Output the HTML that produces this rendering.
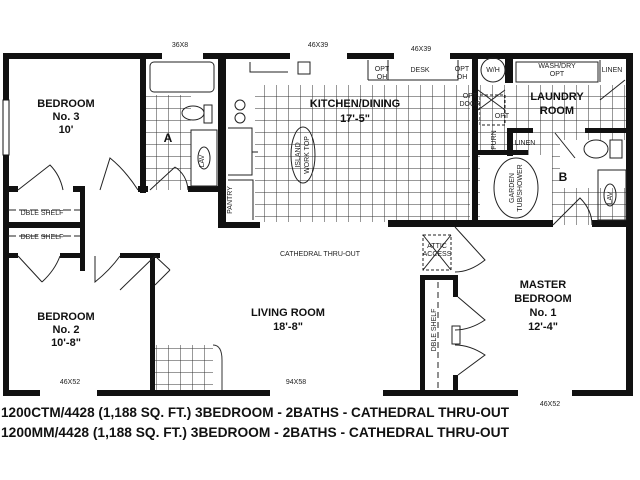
<!DOCTYPE html>
<html><head><style>html,body{margin:0;padding:0;background:#fff}svg{display:block}</style></head><body>
<svg width="640" height="480" viewBox="0 0 640 480" xmlns="http://www.w3.org/2000/svg" font-family="Liberation Sans, sans-serif">
<defs>
<pattern id="g" width="12" height="12" patternUnits="userSpaceOnUse"><path d="M0 0H12M0 0V12" stroke="#333" stroke-width="1" fill="none"/></pattern>
</defs>
<rect width="640" height="480" fill="#fff"/>
<!-- tile grids -->
<rect x="255" y="85" width="215" height="137" fill="url(#g)"/>
<rect x="146" y="95" width="45" height="95" fill="url(#g)"/>
<rect x="478" y="85" width="150" height="140" fill="url(#g)"/>
<rect x="155" y="345" width="58" height="48" fill="url(#g)"/>
<path d="M213 345 Q222 345 222 360 V393" stroke="#333" fill="none"/>
<!-- white covers -->
<rect x="227" y="60" width="160" height="25" fill="#fff"/>
<rect x="228" y="85" width="25" height="135" fill="#fff"/>
<rect x="480" y="155" width="72" height="65" fill="#fff"/>
<rect x="560" y="140" width="66" height="48" fill="#fff"/>
<rect x="146" y="60" width="72" height="35" fill="#fff"/>
<g fill="#111">
<!-- outer walls -->
<rect x="3" y="53" width="159" height="6"/>
<rect x="203" y="53" width="87" height="6"/>
<rect x="347" y="53" width="47" height="6"/>
<rect x="450" y="53" width="182" height="6"/>
<rect x="3" y="53" width="6" height="343"/>
<rect x="626" y="53" width="7" height="343"/>
<rect x="3" y="390" width="37" height="6"/>
<rect x="97" y="390" width="173" height="6"/>
<rect x="383" y="390" width="135" height="6"/>
<rect x="572" y="390" width="61" height="6"/>
<!-- bedroom 3 -->
<rect x="140" y="53" width="6" height="140"/>
<rect x="3" y="186" width="15" height="6"/>
<rect x="73" y="186" width="12" height="6"/>
<rect x="138" y="186" width="10" height="6"/>
<rect x="188" y="186" width="30" height="6"/>
<rect x="218" y="53" width="8" height="175"/>
<rect x="218" y="222" width="42" height="6"/>
<rect x="80" y="186" width="5" height="85"/>
<rect x="3" y="222" width="82" height="6"/>
<rect x="3" y="253" width="15" height="5"/>
<rect x="60" y="253" width="25" height="5"/>
<rect x="120" y="253" width="40" height="5"/>
<rect x="150" y="253" width="5" height="143"/>
<!-- kitchen / bath B -->
<rect x="388" y="220" width="165" height="7"/>
<rect x="592" y="220" width="40" height="7"/>
<rect x="472" y="53" width="6" height="170"/>
<rect x="472" y="53" width="6" height="5"/>
<rect x="505" y="53" width="8" height="30"/>
<rect x="513" y="128" width="20" height="5"/>
<rect x="585" y="128" width="47" height="5"/>
<rect x="507" y="128" width="6" height="28"/>
<rect x="478" y="150" width="50" height="5"/>
<!-- master closet -->
<rect x="420" y="275" width="5" height="121"/>
<rect x="420" y="275" width="38" height="5"/>
<rect x="453" y="275" width="5" height="22"/>
<rect x="453" y="375" width="5" height="21"/>
</g>
<!-- fixtures -->
<g fill="none" stroke="#222" stroke-width="1">
<rect x="150" y="62" width="64" height="30" rx="4"/>
<ellipse cx="193" cy="113" rx="11" ry="7"/>
<rect x="204" y="105" width="8" height="18"/>
<rect x="191" y="130" width="26" height="56"/>
<ellipse cx="204" cy="158" rx="6" ry="11"/>
<path d="M150 190 L175 167 M175 167 Q187 175 188 190"/>
<path d="M18 190 L50 165 Q60 175 63 190"/>
<path d="M100 190 L110 158 Q125 170 138 190"/>
<path d="M18 256 L42 282 M42 282 Q55 270 60 256"/>
<path d="M95 256 L95 282 Q110 270 120 256" />
<path d="M155 256 L120 290"/>
<path d="M155 256 L170 270 M155 285 L170 270"/>
<ellipse cx="303" cy="155" rx="12" ry="28"/>
<circle cx="240" cy="105" r="5"/><circle cx="240" cy="118" r="5"/>
<path d="M228 128H252V175H228M252 152H258"/>
<path d="M228 180H253V220"/>
<rect x="298" y="62" width="12" height="12"/>
<path d="M250 62V72H288 M368 60V80 M368 80H392M388 60V80H458V60"/>
<circle cx="493" cy="70" r="12"/>
<path d="M478 90L505 110M478 110L505 90"/>
<rect x="480" y="95" width="25" height="30" stroke-dasharray="3 2"/>
<rect x="516" y="62" width="82" height="20"/>
<path d="M600 60V82"/>
<ellipse cx="516" cy="188" rx="22" ry="30"/>
<ellipse cx="596" cy="149" rx="12" ry="9"/>
<rect x="610" y="140" width="12" height="18"/>
<rect x="598" y="170" width="28" height="50"/>
<ellipse cx="610" cy="195" rx="6" ry="11"/>
<path d="M553 225 L580 198 Q592 210 592 225"/>
<path d="M555 133 L575 158 M600 100 L625 80"/>
<rect x="423" y="235" width="28" height="35" stroke-dasharray="3 2"/>
<path d="M423 235 L451 270 M451 235 L423 270"/>
<path d="M455 227 L485 260 Q470 272 455 272"/>
<path d="M458 297 L485 320 Q470 330 455 330 M455 345 Q470 345 485 355 L458 375"/>
<rect x="452" y="326" width="8" height="18"/>
<path d="M438 282V390" stroke-dasharray="6 4"/>
<path d="M8 210H80M8 236H80" stroke-dasharray="8 3"/>
</g>
<rect x="3" y="100" width="6" height="55" fill="#fff" stroke="#111"/>
<!-- labels -->
<g font-weight="bold" fill="#111" text-anchor="middle" font-size="11">
<text x="66" y="107">BEDROOM</text><text x="66" y="120">No. 3</text><text x="66" y="133">10'</text>
<text x="66" y="320">BEDROOM</text><text x="66" y="333">No. 2</text><text x="66" y="346">10'-8"</text>
<text x="288" y="316">LIVING ROOM</text><text x="288" y="330">18'-8"</text>
<text x="355" y="107">KITCHEN/DINING</text><text x="355" y="122">17'-5"</text>
<text x="557" y="100">LAUNDRY</text><text x="557" y="114">ROOM</text>
<text x="543" y="288">MASTER</text><text x="543" y="302">BEDROOM</text><text x="543" y="316">No. 1</text><text x="543" y="330">12'-4"</text>
<text x="168" y="142" font-size="12">A</text><text x="563" y="181" font-size="12">B</text>
</g>
<g fill="#222" font-size="7" text-anchor="middle">
<text x="180" y="47">36X8</text><text x="318" y="47">46X39</text><text x="421" y="51">46X39</text>
<text x="70" y="384">46X52</text><text x="296" y="384">94X58</text><text x="550" y="406">46X52</text>
<text x="320" y="256">CATHEDRAL THRU-OUT</text>
<text x="420" y="72">DESK</text><text x="382" y="71">OPT</text><text x="382" y="79">OH</text>
<text x="462" y="71">OPT</text><text x="462" y="79">OH</text><text x="493" y="72">W/H</text>
<text x="557" y="68">WASH/DRY</text><text x="557" y="76">OPT</text><text x="612" y="72">LINEN</text>
<text x="470" y="98">OPT</text><text x="470" y="106">DOOR</text><text x="502" y="118">OPT</text>
<text x="525" y="145">LINEN</text><text x="437" y="248">ATTIC</text><text x="437" y="256">ACCESS</text>
<text transform="translate(232,200) rotate(-90)">PANTRY</text>
<text transform="translate(204,161) rotate(-90)">LAV</text>
<text transform="translate(612,198) rotate(-90)">LAV</text>
<text transform="translate(300,155) rotate(-90)">ISLAND</text>
<text transform="translate(309,155) rotate(-90)">WORK TOP</text>
<text transform="translate(514,188) rotate(-90)">GARDEN</text>
<text transform="translate(522,188) rotate(-90)">TUB/SHOWER</text>
<text transform="translate(496,140) rotate(-90)">FURN</text>
<text transform="translate(436,330) rotate(-90)">DBLE SHELF</text>
<text x="42" y="215">DBLE SHELF</text><text x="42" y="239">DBLE SHELF</text>
</g>
<g font-weight="bold" fill="#111" font-size="14">
<text x="1" y="417" textLength="508" lengthAdjust="spacingAndGlyphs">1200CTM/4428 (1,188 SQ. FT.) 3BEDROOM - 2BATHS - CATHEDRAL THRU-OUT</text>
<text x="1" y="437" textLength="508" lengthAdjust="spacingAndGlyphs">1200MM/4428 (1,188 SQ. FT.) 3BEDROOM - 2BATHS - CATHEDRAL THRU-OUT</text>
</g>
</svg>
</body></html>
